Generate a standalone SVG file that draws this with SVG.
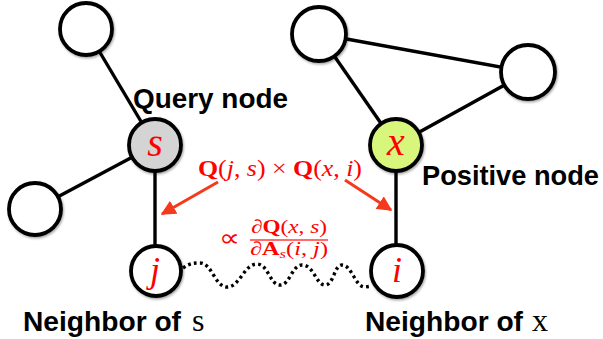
<svg xmlns="http://www.w3.org/2000/svg" width="603" height="339" viewBox="0 0 603 339">
<defs>
<style>
.node{fill:#fff;stroke:#000;stroke-width:3.8;filter:url(#sh)}
.edge{stroke:#000;stroke-width:3.4;fill:none}
.lbl{font-family:"Liberation Sans",Arial,sans-serif;font-weight:bold;font-size:28px;fill:#000}
.math{font-family:"Liberation Serif","Times New Roman",serif;fill:#ff0000}
.var{font-style:italic}
.bf{font-weight:bold}
.arrow{stroke:#f5391c;stroke-width:3;fill:none;marker-end:url(#ah)}
</style>
<filter id="sh" x="-30%" y="-30%" width="160%" height="160%">
<feDropShadow dx="1" dy="1.5" stdDeviation="1.2" flood-color="#000" flood-opacity="0.35"/>
</filter>
<marker id="ah" viewBox="0 0 10 10" refX="9" refY="5" markerWidth="5" markerHeight="5" markerUnits="strokeWidth" orient="auto">
<path d="M0,0 L10,5 L0,10 Z" fill="#f5391c"/>
</marker>
</defs>
<rect width="603" height="339" fill="#fff"/>
<g id="connectors">
<line class="edge" x1="86" y1="29" x2="155" y2="145"/>
<line class="edge" x1="35" y1="209" x2="155" y2="145"/>
<line class="edge" x1="155" y1="145" x2="155" y2="271"/>
<line class="edge" x1="319" y1="34" x2="528" y2="72"/>
<line class="edge" x1="319" y1="34" x2="396" y2="145"/>
<line class="edge" x1="528" y1="72" x2="396" y2="145"/>
<line class="edge" x1="396" y1="145" x2="396" y2="271"/>
<path d="M 183 268 C 190 263, 194 263, 200 263 C 212 263, 215 287, 227 287 C 240 287, 244 264, 257 264 C 268 264, 270 285, 280 285 C 290 285, 292 265, 302 265 C 314 265, 316 285, 325 285 C 334 285, 334 265, 342 265 C 352 265, 355 287, 365 287 L 372 286" fill="none" stroke="#000" stroke-width="3.4" stroke-dasharray="2.8 3.2"/>
<line class="arrow" x1="218" y1="182" x2="162" y2="214"/>
<line class="arrow" x1="345" y1="180" x2="391" y2="210"/>
</g>
<g id="node-tl"><circle class="node" cx="86" cy="29" r="26"/></g>
<g id="node-left"><circle class="node" cx="35" cy="209" r="26"/></g>
<g id="node-s"><circle class="node" cx="155" cy="145" r="26" style="fill:#d4d4d4"/>
<text class="math var" x="155" y="156" font-size="40" text-anchor="middle">s</text></g>
<g id="node-j"><circle class="node" cx="156" cy="271" r="25"/>
<text class="math var" x="155" y="282" font-size="36" text-anchor="middle">j</text></g>
<g id="node-tr"><circle class="node" cx="319" cy="34" r="27"/></g>
<g id="node-right"><circle class="node" cx="528" cy="72" r="27"/></g>
<g id="node-x"><circle class="node" cx="396" cy="145" r="26" style="fill:#d8f67c"/>
<text class="math var" x="396" y="155" font-size="40" text-anchor="middle">x</text></g>
<g id="node-i"><circle class="node" cx="397" cy="271" r="26"/>
<text class="math var" x="397" y="282" font-size="36" text-anchor="middle">i</text></g>
<g id="labels">
<text class="lbl" x="133" y="108" textLength="155" lengthAdjust="spacingAndGlyphs">Query node</text>
<text class="lbl" x="422" y="185" textLength="177" lengthAdjust="spacingAndGlyphs">Positive node</text>
<text class="lbl" x="23" y="331" textLength="158" lengthAdjust="spacingAndGlyphs">Neighbor of</text>
<text x="192" y="331" font-family="Liberation Serif,serif" font-size="32" fill="#000">s</text>
<text class="lbl" x="365" y="331" textLength="158" lengthAdjust="spacingAndGlyphs">Neighbor of</text>
<text x="532" y="331" font-family="Liberation Serif,serif" font-size="32" fill="#000">x</text>
</g>
<g id="formula">
<text class="math" x="198" y="176" font-size="24" textLength="164" lengthAdjust="spacingAndGlyphs"><tspan class="bf">Q</tspan>(<tspan class="var">j</tspan>, <tspan class="var">s</tspan>) × <tspan class="bf">Q</tspan>(<tspan class="var">x</tspan>, <tspan class="var">i</tspan>)</text>
<text x="219" y="246" font-family="DejaVu Sans,sans-serif" font-size="24" fill="#ff0000" textLength="21" lengthAdjust="spacingAndGlyphs">∝</text>
<text class="math" x="289" y="233" font-size="19" text-anchor="middle" textLength="76" lengthAdjust="spacingAndGlyphs">∂<tspan class="bf">Q</tspan>(<tspan class="var">x</tspan>, <tspan class="var">s</tspan>)</text>
<line x1="250" y1="240" x2="328" y2="240" stroke="#ff3b3b" stroke-width="1.5"/>
<text class="math" x="250" y="255" font-size="19" textLength="78" lengthAdjust="spacingAndGlyphs">∂<tspan class="bf">A</tspan><tspan class="var" font-size="13" dy="3">s</tspan><tspan dy="-3">(</tspan><tspan class="var">i</tspan>, <tspan class="var">j</tspan>)</text>
</g>
</svg>
